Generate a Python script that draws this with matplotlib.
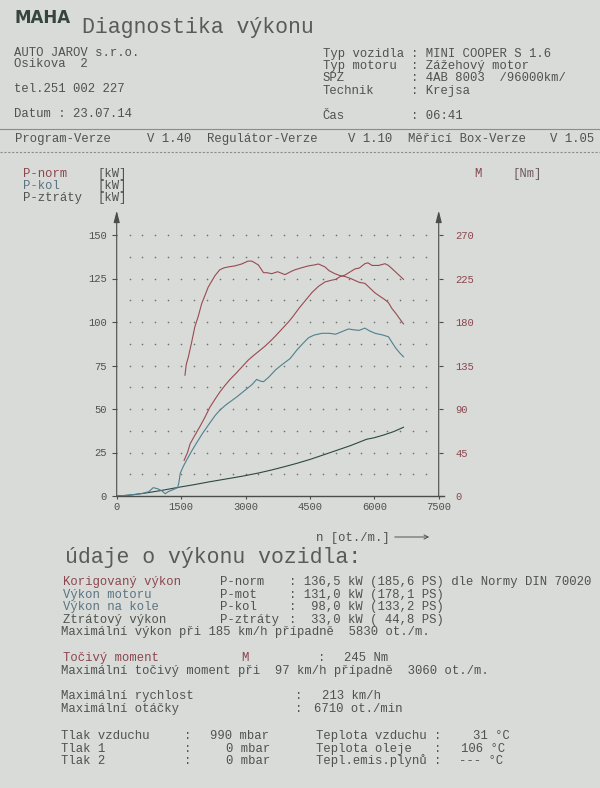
import matplotlib
matplotlib.use("Agg")
import matplotlib.pyplot as plt
import numpy as np

# curves (left axis kW, torque in Nm on right axis)
torque_rpm = [1590, 1620, 1670, 1750, 1820, 1900, 1980, 2060, 2130, 2210, 2290, 2400,
              2500, 2600, 2750, 2910, 3060, 3150, 3300, 3420, 3500, 3610, 3750, 3920,
              4050, 4150, 4300, 4460, 4600, 4700, 4850, 4950, 5080, 5200, 5320, 5450,
              5550, 5650, 5780, 5900, 6020, 6150, 6250, 6330, 6410, 6500, 6580, 6680]
torque_nm = [125, 136, 144, 160, 175, 186, 199, 208, 216, 222, 228, 234,
             236, 237, 238, 240, 243, 243, 239, 231, 231, 230, 232, 229,
             232, 234, 236, 238, 239, 240, 237, 233, 230, 228, 227, 225,
             223, 221, 220, 215, 210, 206, 203, 200, 194, 189, 184, 178]

pnorm_rpm = [1570, 1650, 1710, 1800, 1940, 2050, 2170, 2300, 2410, 2520, 2640, 2780,
             2910, 3060, 3200, 3300, 3450, 3600, 3700, 3850, 4000, 4100, 4250, 4400,
             4550, 4700, 4850, 5000, 5100, 5200, 5320, 5450, 5550, 5650, 5780, 5850,
             5950, 6100, 6250, 6330, 6420, 6550, 6680]
pnorm_kw = [20.5, 25, 30, 34, 40, 45, 51, 56, 60, 63.5, 67, 70.5,
            74, 78, 81, 83, 86, 89.5, 92, 96, 100, 103, 108, 112.5,
            117, 120.5, 123, 124, 124.5, 126, 127, 129, 130.5, 131, 133.5, 134,
            132.5, 132.5, 133.5, 132.5, 130.5, 127.5, 124.5]

pkol_rpm = [0, 200, 400, 600, 750, 850, 950, 1050, 1130, 1200, 1300, 1420, 1450, 1480,
            1550, 1630, 1750, 1860, 2000, 2170, 2300, 2410, 2550, 2800, 3000, 3150,
            3260, 3350, 3420, 3550, 3700, 3850, 4040, 4200, 4350, 4470, 4600, 4780,
            4950, 5100, 5250, 5400, 5520, 5650, 5780, 5880, 6020, 6200, 6330, 6420,
            6500, 6600, 6680]
pkol_kw = [0, 0.3, 0.8, 1.5, 2.5, 4.8, 4.2, 3.0, 1.3, 2.5, 3.5, 4.8, 8, 13,
           17, 20.7, 26, 30.5, 36, 42, 46.5, 49.5, 52.5, 57, 61, 64,
           67, 66, 65.7, 68.5, 72.5, 75.5, 79, 84, 88, 91, 92.5, 93.5,
           93.5, 93, 94.5, 96, 95.5, 95.2, 96.5, 95, 93.5, 92.5, 91.5, 88,
           85, 82, 80]

pztr_rpm = [0, 300, 620, 1000, 1440, 1800, 2170, 2600, 2950, 3300, 3600, 3900,
            4200, 4500, 4800, 5120, 5450, 5820, 6000, 6210, 6450, 6680]
pztr_kw = [0, 0.5, 1.5, 3, 5, 6.5, 8.2, 10, 11.5, 13.2, 14.9, 16.8,
           18.8, 21, 23.5, 26.2, 29, 32.6, 33.5, 35, 37, 39.5]

kw_ticks = [0, 25, 50, 75, 100, 125, 150]
nm_ticks = [0, 45, 90, 135, 180, 225, 270]
rpm_ticks = [0, 1500, 3000, 4500, 6000, 7500]

W, H = 600, 788
BG = "#d8dbd7"
TXT = "#4e5350"
RED = "#8c4650"
BLUE = "#5b7482"
LINE_RED = "#9a4a52"
LINE_BLUE = "#4f8090"
LINE_DARK = "#2e4843"
AX = "#4a4d4b"
MONO = ["Liberation Mono", "DejaVu Sans Mono"]
FS = 8.8

fig = plt.figure(figsize=(6, 7.88), dpi=100, facecolor=BG)


def put(x, y, s, size=FS, color=TXT, **kw):
    # y is the visual middle of the line in pixels; place text on its baseline
    fig.text(x / W, 1 - (y + size * 0.42) / H, s, fontsize=size, color=color,
             family=MONO, va="baseline", ha="left", **kw)


# header
fig.text(14.5 / W, 1 - 23 / H, "MAHA", fontsize=12, fontweight="bold",
         color="#364540", family="DejaVu Sans", va="baseline")
put(82, 26, "Diagnostika výkonu", size=15.5, color="#575c59")

put(14.5, 52, "AUTO JAROV s.r.o.")
put(14.5, 63.5, "Osikova  2")
put(14.5, 88, "tel.251 002 227")
put(14.5, 113, "Datum : 23.07.14")

info = [("Typ vozidla", ": MINI COOPER S 1.6", 53),
        ("Typ motoru", ": Zážehový motor", 65),
        ("SPZ", ": 4AB 8003  /96000km/", 77),
        ("Technik", ": Krejsa", 90),
        ("Čas", ": 06:41", 115)]
for lab, val, yy in info:
    put(322.7, yy, lab)
    put(411, yy, val)

fig.add_artist(plt.Line2D([0, 1], [1 - 128.5 / H] * 2, color="#8a8d8b", lw=0.8))
fig.add_artist(plt.Line2D([0, 1], [1 - 151.5 / H] * 2, color="#8a8d8b", lw=0.8,
                          ls=(0, (2, 1.5))))
put(14.5, 138, "Program-Verze")
put(147, 138, "V 1.40")
put(207, 138, "Regulátor-Verze")
put(348, 138, "V 1.10")
put(408, 138, "Měřicí Box-Verze")
put(550, 138, "V 1.05")

put(23, 173, "P-norm", color=RED)
put(98, 173, "[kW]")
put(23, 185.5, "P-kol", color=BLUE)
put(98, 185.5, "[kW]")
put(23, 197, "P-ztráty")
put(98, 197, "[kW]")
put(474.6, 173, "M", color=RED)
put(512.8, 173, "[Nm]", color="#6e5a5e")

# chart
ax = fig.add_axes([116.7 / W, 1 - 496 / H, 322 / W, 165 * 1.74 / H])
ax.set_xlim(0, 7500)
ax.set_ylim(0, 165)
ax.patch.set_alpha(0)
for s in ax.spines.values():
    s.set_visible(False)

gx, gy = np.meshgrid(np.arange(300, 7201, 300), np.arange(12.5, 150.1, 12.5))
ax.scatter(gx.ravel(), gy.ravel(), s=1.4, color="#6f7270", lw=0, zorder=1)

ax.plot([0, 7620], [0, 0], color=AX, lw=1.0, clip_on=False, zorder=3)
for xa in (0, 7500):
    ax.annotate("", xy=(xa, 164), xytext=(xa, 0), annotation_clip=False,
                arrowprops=dict(arrowstyle="-|>,head_length=0.7,head_width=0.18",
                                color=AX, lw=0.8, shrinkA=0, shrinkB=0))

ax.plot(pztr_rpm, pztr_kw, color=LINE_DARK, lw=0.8, zorder=4)
ax.plot(pkol_rpm, pkol_kw, color=LINE_BLUE, lw=0.8, zorder=4)
ax.plot(pnorm_rpm, pnorm_kw, color=LINE_RED, lw=0.8, zorder=4)

ax.set_xticks(rpm_ticks)
ax.set_xticklabels([str(v) for v in rpm_ticks], family=MONO, color=TXT)
ax.set_yticks(kw_ticks)
ax.set_yticklabels([str(v) for v in kw_ticks], family=MONO, color=TXT)
ax.tick_params(axis="x", direction="out", length=2.5, width=0.8, color=AX,
               labelsize=7.6, pad=2)
ax.tick_params(axis="y", direction="out", length=3.5, width=0.8, color=AX,
               labelsize=7.6, pad=3.5)

ax2 = ax.twinx()
ax2.set_ylim(0, 165 * 1.8)
for s in ax2.spines.values():
    s.set_visible(False)
ax2.plot(torque_rpm, torque_nm, color=LINE_RED, lw=0.8, zorder=4)
ax2.set_yticks(nm_ticks)
ax2.set_yticklabels([str(v) for v in nm_ticks], family=MONO, color=RED)
ax2.tick_params(axis="y", direction="out", length=3, width=0.8, color=AX,
                labelsize=7.6, pad=9)

put(316, 537, "n [ot./m.]")
fig.add_artist(matplotlib.patches.FancyArrowPatch(
    (392 / W, 1 - 537 / H), (432 / W, 1 - 537 / H), transform=fig.transFigure,
    arrowstyle="->,head_length=3,head_width=1.5", color=TXT, lw=0.7))

# results block
put(65, 556, "údaje o výkonu vozidla:", size=15.5, color="#575c59")

rows = [("Korigovaný výkon", "P-norm", ": 136,5 kW (185,6 PS) dle Normy DIN 70020", 581.7, RED),
        ("Výkon motoru", "P-mot", ": 131,0 kW (178,1 PS)", 594.3, BLUE),
        ("Výkon na kole", "P-kol", ":  98,0 kW (133,2 PS)", 606.7, BLUE),
        ("Ztrátový výkon", "P-ztráty", ":  33,0 kW ( 44,8 PS)", 619.3, TXT)]
for lab, sym, val, yy, c in rows:
    put(63, yy, lab, color=c)
    put(220, yy, sym)
    put(289, yy, val)
put(61, 631.7, "Maximální výkon při 185 km/h případně  5830 ot./m.")

put(63, 657.3, "Točivý moment", color=RED)
put(241, 657.3, "M", color=RED)
put(318, 657.3, ":")
put(344.5, 657.3, "245 Nm")
put(61, 670, "Maximální točivý moment při  97 km/h případně  3060 ot./m.")

put(61, 695, "Maximální rychlost")
put(294.7, 695, ":")
put(321.5, 695, "213 km/h")
put(61, 708.3, "Maximální otáčky")
put(294.7, 708.3, ":")
put(314, 708.3, "6710 ot./min")

cond = [("Tlak vzduchu", 210.5, "990 mbar", "Teplota vzduchu :", 472.6, "31 °C", 735),
        ("Tlak 1", 225.8, "0 mbar", "Teplota oleje   :", 461, "106 °C", 748.3),
        ("Tlak 2", 225.8, "0 mbar", "Tepl.emis.plynů :", 459, "--- °C", 760)]
for lab, xv, val, lab2, xv2, val2, yy in cond:
    put(61, yy, lab)
    put(183.7, yy, ":")
    put(xv, yy, val)
    put(315.7, yy, lab2)
    put(xv2, yy, val2)

fig.savefig("out.png", dpi=100, facecolor=BG)
